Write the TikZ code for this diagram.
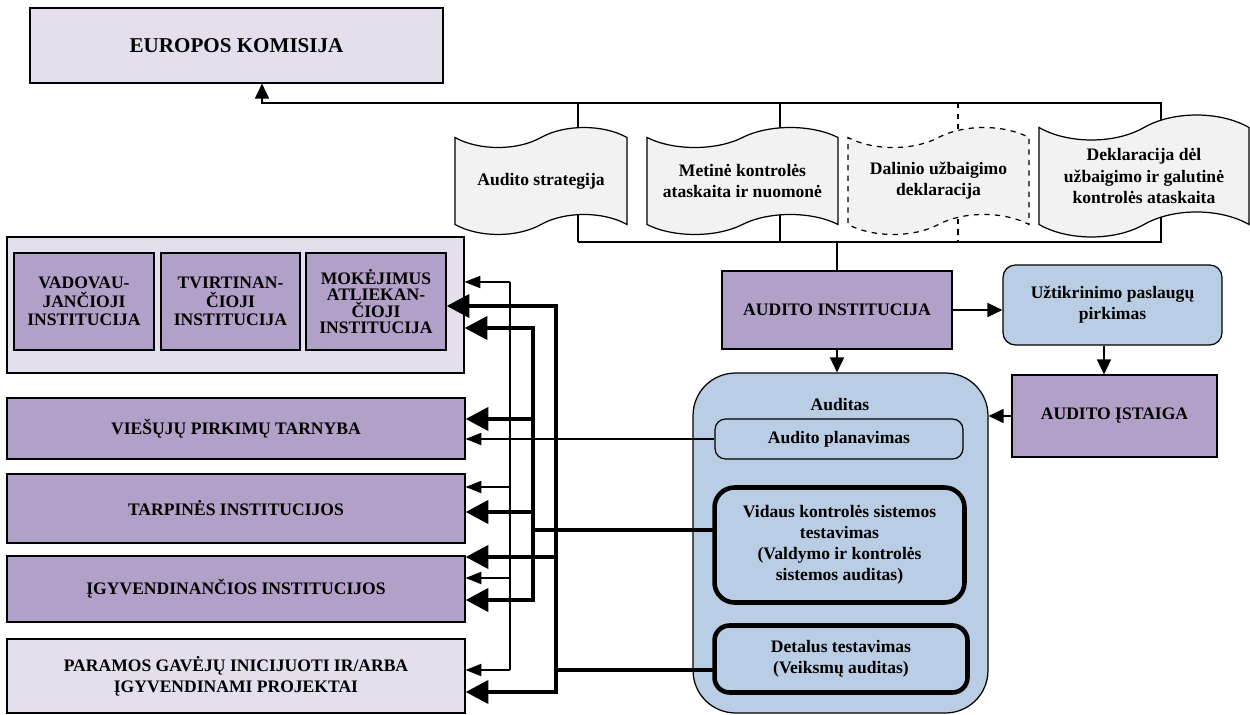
\documentclass[tikz,border=0pt]{standalone}
\usepackage{fontspec}
\setmainfont{Liberation Serif}
\usetikzlibrary{arrows.meta,shapes.symbols}

\definecolor{lavender}{RGB}{228,223,236}
\definecolor{plum}{RGB}{177,160,199}
\definecolor{pale}{RGB}{185,205,229}
\definecolor{paper}{RGB}{242,242,242}

\begin{document}
\begin{tikzpicture}[
    x = 0.02cm,
    y = -0.02cm,
    line width = 0.7pt,
    font = \bfseries\fontsize{10}{12}\selectfont,
    box/.style = {
      draw,
      align = center,
      inner sep = 2pt
    },
    outer/.style = {box, fill = lavender},
    inst/.style = {box, fill = plum},
    task/.style = {box, fill = pale, rounded corners = 6pt},
    heavy/.style = {task, line width = 2.6pt, rounded corners = 10pt},
    doc/.style = {
      draw,
      fill = paper,
      tape,
      tape bend height = 0.4cm,
      align = center,
      minimum height = 2.14cm
    },
    arr/.style = {-{Triangle[length=8.5pt,width=8pt]}},
    thinarr/.style = {line width = 0.6pt, -{Triangle[length=9pt,width=7pt]}},
    thickarr/.style = {line width = 2.6pt, -{Triangle[length=13pt,width=13pt]}},
    bus/.style = {line width = 2.6pt, line cap = rect}
  ]
  \useasboundingbox (0,0) rectangle (1250,715);

  \node[outer, minimum width = 8.26cm, minimum height = 1.5cm,
    font = \bfseries\fontsize{12}{14}\selectfont] (ek) at (236.5,45.5) {EUROPOS KOMISIJA};

  \draw[arr] (578,242) -- (1161,242) -- (1161,103) -- (262,103) -- (ek.south -| 262,0);
  \foreach \x in {578,780}
    \draw (\x,103) -- (\x,242);
  \draw[dashed] (958,103) -- (958,242);

  \node[doc, minimum width = 3.44cm] (strat) at (541,181) {Audito strategija};
  \node[doc, minimum width = 3.82cm] (metine) at (742.5,181) {Metinė kontrolės\\ataskaita ir nuomonė};
  \node[doc, dashed, minimum width = 3.62cm] (dalinio) at (938.5,181) {Dalinio užbaigimo\\deklaracija};
  \node[doc, minimum width = 4.2cm, minimum height = 2.44cm, tape bend height = 0.5cm] (dekl) at (1144,176)
    {Deklaracija dėl\\užbaigimo ir galutinė\\kontrolės ataskaita};

  \node[inst, minimum width = 4.6cm, minimum height = 1.56cm] (ai) at (837,310) {AUDITO INSTITUCIJA};
  \draw (ai.north |- 0,242) -- (ai.north);
  \node[task, minimum width = 4.38cm, minimum height = 1.6cm, rounded corners = 7pt] (uzt) at (1112.5,305)
    {Užtikrinimo paslaugų\\pirkimas};
  \node[inst, minimum width = 4.1cm, minimum height = 1.64cm] (istaiga) at (1114.5,416) {AUDITO ĮSTAIGA};
  \draw[arr] (ai.east) -- (ai.east -| uzt.west);
  \draw[arr] ([xshift=-0.17cm]uzt.south) -- ([xshift=-0.17cm]uzt.south |- istaiga.north);

  \node[task, rounded corners = 0.85cm, minimum width = 5.9cm, minimum height = 6.8cm] (audit) at (840.5,543) {};
  \draw[arr] (ai.south) -- (ai.south |- audit.north);
  \draw[arr] (istaiga.west) -- (istaiga.west -| audit.east);
  \node (audtitle) at (840,405) {Auditas};
  \node[task, minimum width = 4.96cm, minimum height = 0.8cm] (plan) at (839,439) {Audito planavimas};
  \node[heavy, minimum width = 5cm, minimum height = 2.3cm, rounded corners = 0.4cm] (vidaus) at (839.5,545)
    {Vidaus kontrolės sistemos\\testavimas\\(Valdymo ir kontrolės\\sistemos auditas)};
  \node[heavy, minimum width = 5.06cm, minimum height = 1.34cm, rounded corners = 0.3cm] (detal) at (841,659)
    {Detalus testavimas\\(Veiksmų auditas)};

  \node[outer, minimum width = 9.14cm, minimum height = 2.72cm] (grp) at (235.5,305) {};
  \node[inst, minimum width = 2.8cm, minimum height = 1.94cm,
    font = \bfseries\fontsize{10}{10.4}\selectfont] (vadov) at (84,301.5) {VADOVAU-\\JANČIOJI\\INSTITUCIJA};
  \node[inst, minimum width = 2.78cm, minimum height = 1.94cm,
    font = \bfseries\fontsize{10}{10.4}\selectfont] (tvirt) at (230.5,301.5) {TVIRTINAN-\\ČIOJI\\INSTITUCIJA};
  \node[inst, minimum width = 2.8cm, minimum height = 1.94cm,
    font = \bfseries\fontsize{10}{9.3}\selectfont] (mok) at (376,301.5) {MOKĖJIMUS\\ATLIEKAN-\\ČIOJI\\INSTITUCIJA};
  \node[inst, minimum width = 9.16cm, minimum height = 1.22cm] (vpt) at (236,428.5) {VIEŠŲJŲ PIRKIMŲ TARNYBA};
  \node[inst, minimum width = 9.16cm, minimum height = 1.38cm] (tarp) at (236,508.5) {TARPINĖS INSTITUCIJOS};
  \node[inst, minimum width = 9.16cm, minimum height = 1.32cm] (igyv) at (236,589) {ĮGYVENDINANČIOS INSTITUCIJOS};
  \node[outer, minimum width = 9.16cm, minimum height = 1.48cm] (param) at (236,676)
    {PARAMOS GAVĖJŲ INICIJUOTI IR/ARBA\\ĮGYVENDINAMI PROJEKTAI};

  \draw[line width = 0.6pt] (510,282) -- (510,670);
  \draw[thinarr] (510,282) -- (grp.east |- 0,282);
  \draw[thinarr] (plan.west) -- (plan.west -| vpt.east);
  \foreach \y/\n in {487/tarp, 578/igyv, 670/param}
    \draw[thinarr] (510,\y) -- (\n.east |- 0,\y);

  \draw[bus] (533,328) -- (533,600);
  \draw[bus] (vidaus.west |- 0,530) -- (533,530);
  \foreach \y/\n in {328/grp, 419/vpt, 512/tarp, 600/igyv}
    \draw[thickarr] (533,\y) -- (\n.east |- 0,\y);

  \draw[bus] (556,306) -- (556,692);
  \draw[bus] (detal.west |- 0,670) -- (556,670);
  \foreach \y/\n in {306/mok, 557/igyv, 692/param}
    \draw[thickarr] (556,\y) -- (\n.east |- 0,\y);

\end{tikzpicture}
\end{document}
